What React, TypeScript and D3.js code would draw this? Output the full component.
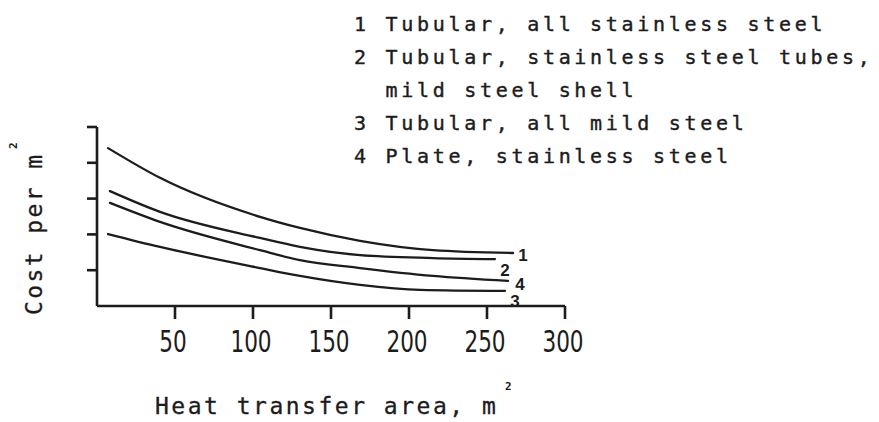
import React from "react";
import * as d3 from "d3";

// heat transfer area (m²) vs relative cost per m²
const areaTicks = [50, 100, 150, 200, 250, 300];
const costTicks = [1, 2, 3, 4, 5];

const tubularStainlessX = [7.1, 40.4, 104.5, 130.1, 168.6, 215.4, 266.7];
const tubularStainlessY = [4.41, 3.58, 2.49, 2.18, 1.82, 1.56, 1.48];

const tubularMixedX = [8.3, 40.4, 104.5, 130.1, 168.6, 215.4, 255.1];
const tubularMixedY = [3.21, 2.63, 1.9, 1.65, 1.42, 1.34, 1.31];

const plateStainlessX = [8.3, 40.4, 104.5, 130.1, 168.6, 215.4, 263.5];
const plateStainlessY = [2.88, 2.35, 1.56, 1.28, 1.06, 0.84, 0.7];

const tubularMildX = [7.1, 40.4, 104.5, 130.1, 168.6, 207.1, 261.5];
const tubularMildY = [2.01, 1.65, 1.06, 0.84, 0.59, 0.45, 0.42];

const curveNames = ["1", "2", "4", "3"];
const legendLines = [
  "1 Tubular, all stainless steel",
  "2 Tubular, stainless steel tubes,",
  "  mild steel shell",
  "3 Tubular, all mild steel",
  "4 Plate, stainless steel",
];

// where each curve number sits relative to the curve end
const labelOffsets = [
  [10, 3],
  [10, 12],
  [12, 5],
  [10, 12],
];

const W = 879;
const H = 422;

export default function App() {
  const x = d3.scaleLinear().domain([0, 300]).range([97, 565]);
  const y = d3.scaleLinear().domain([0, 5]).range([306, 127]);

  const series = [
    d3.zip(tubularStainlessX, tubularStainlessY),
    d3.zip(tubularMixedX, tubularMixedY),
    d3.zip(plateStainlessX, plateStainlessY),
    d3.zip(tubularMildX, tubularMildY),
  ];

  const line = d3
    .line<number[]>()
    .x((d) => x(d[0]))
    .y((d) => y(d[1]))
    .curve(d3.curveMonotoneX);

  const mono = "'DejaVu Sans Mono', monospace";
  const ink = "#1c1c1c";

  return (
    <svg
      width={W}
      height={H}
      style={{ position: "absolute", left: 0, top: 0, background: "#fff" }}
    >
      {/* legend */}
      {legendLines.map((t, i) => (
        <text
          key={i}
          x={354}
          y={31 + i * 33}
          fontFamily={mono}
          fontSize={20}
          letterSpacing={3.7}
          fill={ink}
          stroke={ink}
          strokeWidth={0.4}
          style={{ whiteSpace: "pre" }}
        >
          {t}
        </text>
      ))}

      {/* axes */}
      <g stroke={ink} strokeWidth={2.6} fill="none">
        <line x1={x(0)} x2={x(300)} y1={y(0)} y2={y(0)} />
        <line x1={x(0)} x2={x(0)} y1={y(0)} y2={y(5)} />
        {areaTicks.map((t) => (
          <line key={t} x1={x(t)} x2={x(t)} y1={y(0)} y2={y(0) + 13} />
        ))}
        {costTicks.map((t) => (
          <line key={t} x1={x(0) - 10} x2={x(0)} y1={y(t)} y2={y(t)} />
        ))}
      </g>

      {areaTicks.map((t) => (
        <g key={t} transform={`translate(${x(t) - 2},352) scale(0.8,1)`}>
          <text
            x={0}
            y={0}
            textAnchor="middle"
            fontFamily="'DejaVu Sans Condensed', 'DejaVu Sans', sans-serif"
            fontSize={30}
            fill={ink}
          >
            {t}
          </text>
        </g>
      ))}

      {/* curves */}
      <g fill="none" stroke={ink} strokeWidth={2.3} strokeLinecap="round">
        {series.map((s, i) => (
          <path key={i} d={line(s) || ""} />
        ))}
      </g>
      {series.map((s, i) => {
        const last = s[s.length - 1];
        return (
          <text
            key={i}
            x={x(last[0]) + labelOffsets[i][0]}
            y={y(last[1]) + labelOffsets[i][1]}
            textAnchor="middle"
            dominantBaseline="middle"
            fontFamily="'Liberation Sans', Arial, sans-serif"
            fontWeight="bold"
            fontSize={17}
            fill={ink}
          >
            {curveNames[i]}
          </text>
        );
      })}

      {/* axis titles */}
      <text
        x={155}
        y={414}
        fontFamily={mono}
        fontSize={23}
        letterSpacing={2.5}
        fill={ink}
        stroke={ink}
        strokeWidth={0.3}
      >
        Heat transfer area, m
      </text>
      <text x={505} y={390} fontFamily={mono} fontSize={11} fontWeight="bold" fill={ink}>
        2
      </text>

      <g transform="translate(42,315) rotate(-90)">
        <text
          x={0}
          y={0}
          fontFamily={mono}
          fontSize={23}
          letterSpacing={2.4}
          fill={ink}
          stroke={ink}
          strokeWidth={0.3}
        >
          Cost per m
        </text>
        <text x={166} y={-25} fontFamily={mono} fontSize={11} fontWeight="bold" fill={ink}>
          2
        </text>
      </g>
    </svg>
  );
}
